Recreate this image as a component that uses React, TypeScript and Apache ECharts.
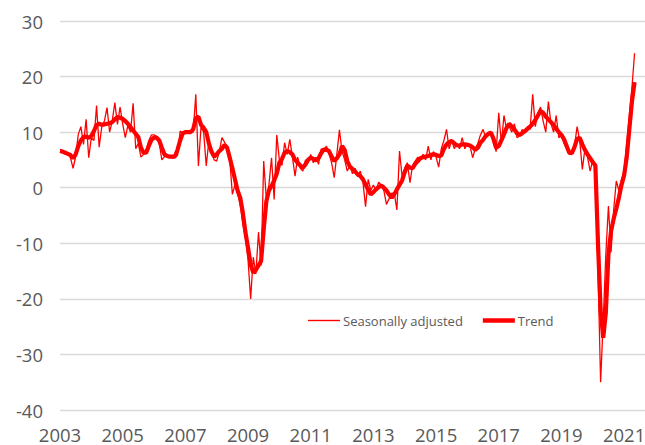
import React, { useEffect, useRef } from "react";
import * as echarts from "echarts";

// Monthly observations, Jan 2003 – May 2021
const trendValues: number[] = [
  // 2003
  6.6, 6.5, 6.3, 6.1, 5.9, 5.3, 6.0, 7.5, 8.5, 9.1, 9.2, 9.0,
  // 2004
  9.3, 10.2, 11.3, 11.5, 11.3, 11.4, 11.5, 11.6, 11.8, 12.3, 12.7, 12.6,
  // 2005
  12.4, 12.0, 11.5, 10.9, 10.3, 9.7, 9.1, 7.2, 6.3, 6.3, 7.5, 8.6,
  // 2006
  9.0, 9.0, 8.5, 7.2, 6.0, 5.7, 5.6, 5.6, 5.6, 6.8, 8.5, 9.8,
  // 2007
  10.0, 10.0, 10.0, 10.5, 12.5, 12.8, 11.3, 10.8, 10.0, 8.0, 6.5, 5.6,
  // 2008
  6.0, 6.6, 7.0, 7.7, 7.2, 5.4, 3.5, 1.5, -0.5, -1.8, -4.5, -8.0,
  // 2009
  -10.8, -13.8, -15.3, -14.8, -14.0, -13.2, -7.5, -2.5, -0.5, 0.3, 1.3, 2.5,
  // 2010
  4.5, 5.2, 6.3, 6.6, 6.4, 6.0, 5.0, 4.5, 4.0, 3.6, 4.2, 5.0,
  // 2011
  5.4, 5.2, 4.9, 5.3, 6.2, 6.9, 6.8, 6.6, 5.6, 4.8, 5.3, 6.0,
  // 2012
  7.5, 6.8, 4.8, 3.8, 3.4, 2.9, 2.4, 2.1, 1.5, 0.6, -0.4, -1.2,
  // 2013
  -0.8, -0.3, 0.1, 0.4, 0.0, -0.5, -1.2, -1.8, -1.2, -0.3, 0.5, 1.3,
  // 2014
  2.8, 4.0, 3.6, 3.5, 4.3, 4.8, 5.3, 5.5, 5.6, 5.7, 5.9, 6.0,
  // 2015
  5.9, 5.7, 5.8, 7.0, 7.8, 8.2, 8.4, 8.0, 7.6, 7.6, 7.8, 7.8,
  // 2016
  7.7, 7.6, 7.3, 6.8, 7.2, 8.1, 8.6, 9.3, 9.7, 9.9, 8.8, 7.2,
  // 2017
  7.5, 8.5, 9.6, 10.8, 11.5, 11.0, 10.5, 9.8, 9.5, 9.8, 10.2, 10.6,
  // 2018
  11.0, 11.5, 12.2, 13.0, 13.8, 13.5, 12.8, 12.3, 11.8, 11.3, 10.6, 10.0,
  // 2019
  9.5, 8.7, 7.5, 6.3, 6.2, 7.3, 8.8, 9.0, 7.8, 6.8, 6.0, 5.3,
  // 2020
  4.6, 4.0, -10.0, -22.0, -27.0, -22.5, -12.0, -7.8, -5.6, -3.8, -1.8, 0.5,
  // 2021
  2.2, 5.5, 10.5, 15.5, 19.0,
];

const seasonallyAdjustedValues: number[] = [
  // 2003
  6.9, 6.7, 6.3, 6.0, 5.4, 3.5, 5.6, 9.6, 11.0, 7.8, 12.3, 5.4,
  // 2004
  9.0, 8.5, 14.8, 7.3, 11.0, 12.0, 14.4, 10.0, 12.0, 15.3, 11.4, 14.5,
  // 2005
  11.5, 9.0, 11.2, 10.0, 15.2, 7.0, 8.0, 5.5, 6.0, 6.8, 8.5, 9.5,
  // 2006
  9.5, 9.2, 8.0, 5.0, 5.6, 6.0, 5.5, 5.3, 5.6, 5.8, 10.2, 9.8,
  // 2007
  10.2, 9.8, 10.3, 10.0, 16.8, 3.9, 11.0, 10.0, 3.9, 8.5, 6.7, 5.0,
  // 2008
  4.8, 6.5, 9.0, 8.2, 7.0, 5.0, -1.2, 0.5, -1.0, -3.0, -6.5, -9.0,
  // 2009
  -13.0, -20.0, -12.5, -15.5, -8.0, -14.0, 4.8, -2.0, 0.5, 5.4, -2.1, 9.5,
  // 2010
  5.0, 4.0, 8.1, 6.0, 8.7, 5.5, 2.1, 5.5, 3.5, 3.0, 5.0, 4.5,
  // 2011
  6.0, 4.5, 5.5, 4.2, 7.0, 6.5, 7.5, 6.2, 4.5, 1.8, 6.0, 10.4,
  // 2012
  6.5, 5.0, 3.0, 4.0, 2.5, 3.5, 2.0, 3.0, 1.0, -3.4, 1.5, -0.5,
  // 2013
  0.5, -0.5, 1.0, 0.5, -0.5, -3.0, -2.0, -1.0, -1.0, -4.0, 6.6, 2.0,
  // 2014
  3.5, 4.5, 0.9, 4.0, 4.8, 5.5, 5.0, 6.0, 5.0, 7.5, 5.0, 6.5,
  // 2015
  5.5, 3.7, 7.0, 8.5, 10.5, 7.0, 8.5, 7.0, 8.0, 7.0, 9.0, 7.0,
  // 2016
  8.0, 7.5, 5.4, 7.0, 8.0, 9.5, 10.5, 9.0, 10.0, 9.8, 8.0, 6.5,
  // 2017
  13.5, 8.0, 13.0, 10.5, 11.0, 10.0, 11.5, 9.0, 9.3, 10.5, 10.0, 11.0,
  // 2018
  10.5, 16.8, 11.0, 13.5, 14.5, 12.0, 10.0, 15.5, 11.5, 10.0, 13.0, 9.0,
  // 2019
  9.5, 8.0, 7.0, 6.0, 6.5, 7.5, 11.0, 8.5, 3.3, 7.0, 5.5, 3.0,
  // 2020
  5.0, 3.0, -15.0, -35.0, -24.0, -12.0, -3.3, -11.6, -4.0, 1.2, -0.5, 1.5,
  // 2021
  3.0, 8.0, 13.0, 18.0, 24.2,
];

const firstYear = 2003;
const totalSlots = 225; // monthly slots on the axis (data + blank tail)
const categories: string[] = [];
for (let k = 0; k < totalSlots; k++) {
  const y = firstYear + Math.floor(k / 12);
  const m = (k % 12) + 1;
  categories.push(`${y}-${m < 10 ? "0" + m : m}`);
}

const yTicks = { min: -40, max: 30, interval: 10 };
const seriesNames = ["Seasonally adjusted", "Trend"];

const FONT = "'Open Sans', 'Liberation Sans', sans-serif";
const GREY = "#595959";

export default function App() {
  const ref = useRef<HTMLDivElement>(null);
  useEffect(() => {
    if (!ref.current) return;
    const chart = echarts.init(ref.current, null, { renderer: "svg" });
    const isLabel = (val: string) => {
      const [y, m] = val.split("-");
      return m === "01" && (parseInt(y, 10) - firstYear) % 2 === 0;
    };
    chart.setOption({
      animation: false,
      backgroundColor: "#ffffff",
      grid: {
        left: 60,
        right: 0,
        top: 21,
        bottom: 35,
        containLabel: false,
        outerBoundsMode: "none",
      },
      legend: {
        left: 303,
        top: 309,
        itemWidth: 32,
        itemHeight: 14,
        itemGap: 20,
        symbolKeepAspect: true,
        textStyle: { color: GREY, fontSize: 13, fontFamily: FONT, padding: [0, 0, 0, -2] },
        data: [
          { name: seriesNames[0], icon: "path://M0 0H32V1.4H0Z" },
          { name: seriesNames[1], icon: "path://M0 0H32V4.5H0Z" },
        ],
      },
      xAxis: {
        type: "category",
        data: categories,
        boundaryGap: false,
        axisLine: { show: false },
        axisTick: { show: false },
        splitLine: { show: false },
        axisLabel: {
          interval: (_i: number, val: string) => isLabel(val),
          formatter: (val: string) => val.split("-")[0],
          color: GREY,
          fontSize: 18.5,
          fontFamily: FONT,
          margin: 15,
          hideOverlap: false,
          showMinLabel: true,
          showMaxLabel: true,
        },
      },
      yAxis: {
        type: "value",
        min: yTicks.min,
        max: yTicks.max,
        interval: yTicks.interval,
        axisLine: { show: false },
        axisTick: { show: false },
        splitLine: { lineStyle: { color: "#D9D9D9", width: 1.3 } },
        axisLabel: { color: GREY, fontSize: 18.5, fontFamily: FONT, margin: 17 },
      },
      series: [
        {
          name: seriesNames[0],
          type: "line",
          data: seasonallyAdjustedValues,
          symbol: "none",
          lineStyle: { color: "#FF0000", width: 1.3 },
          itemStyle: { color: "#FF0000" },
          z: 2,
        },
        {
          name: seriesNames[1],
          type: "line",
          data: trendValues,
          symbol: "none",
          lineStyle: { color: "#FF0000", width: 4.2 },
          itemStyle: { color: "#FF0000" },
          z: 3,
        },
      ],
    });
    return () => chart.dispose();
  }, []);
  return (
    <div
      ref={ref}
      style={{ position: "fixed", left: 0, top: 0, width: 645, height: 445, background: "#fff" }}
    />
  );
}
